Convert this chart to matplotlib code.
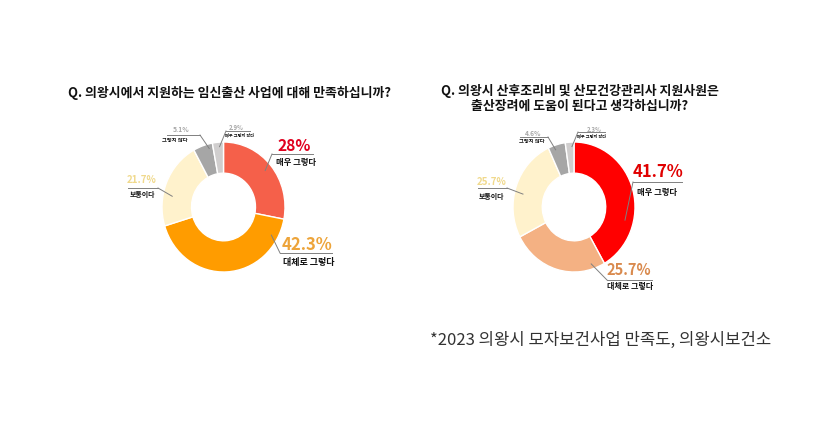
import numpy as np
import matplotlib.pyplot as plt

plt.rcParams['font.family'] = ['Noto Sans CJK KR', 'DejaVu Sans']

W, H = 840, 433

categories = ['매우 그렇다', '대체로 그렇다', '보통이다', '그렇지 않다', '매우 그렇지 않다']
left_values = [28, 42.3, 21.7, 5.1, 2.9]
right_values = [41.7, 25.7, 25.7, 4.6, 2.3]
left_pct_labels = ['28%', '42.3%', '21.7%', '5.1%', '2.9%']
right_pct_labels = ['41.7%', '25.7%', '25.7%', '4.6%', '2.3%']

left_title = 'Q. 의왕시에서 지원하는 임신출산 사업에 대해 만족하십니까?'
right_title = 'Q. 의왕시 산후조리비 및 산모건강관리사 지원사원은\n출산장려에 도움이 된다고 생각하십니까?'
source_note = '*2023 의왕시 모자보건사업 만족도, 의왕시보건소'

left_colors = ['#F5604A', '#FF9C00', '#FFF2CC', '#A6A6A6', '#D0CECE']
right_colors = ['#FF0000', '#F4B183', '#FFF2CC', '#A6A6A6', '#D0CECE']
left_text_colors = ['#E0001E', '#EDA43A', '#F0D98C', '#A6A6A6', '#A6A6A6']
right_text_colors = ['#E00000', '#D98A4E', '#F0D98C', '#A6A6A6', '#A6A6A6']

# label layout: pct centre, underline (x0, x1, y), name centre, elbow side,
# anchor fraction inside wedge, anchor radius, pct size, name size
left_layout = [
    ((294, 146), (272, 313, 154), (296, 162), 'L', 0.5, 0.88, 11.2, 6),
    ((307, 245), (280, 332, 253), (309, 262), 'L', 0.12, 0.89, 12, 6.5),
    ((142, 180), (128, 158, 188), (142, 194), 'R', 0.36, 0.85, 7, 5),
    ((181, 129), (167, 200, 135), (175, 140), 'R', 0.78, 0.93, 4.8, 3.8),
    ((236, 127), (226, 250, 131), (240, 135), 'L', 0.62, 0.93, 4.3, 3),
]
right_layout = [
    ((658, 172), (633, 682, 182), (657, 192), 'L', 0.69, 0.86, 12, 6),
    ((629, 270), (607, 652, 280), (630, 287), 'L', 0.13, 0.92, 10.5, 5.8),
    ((492, 182), (478, 507, 188), (491, 196), 'R', 0.44, 0.86, 7, 5),
    ((533, 133), (520, 548, 137), (532, 141), 'R', 0.36, 0.93, 4.8, 3.8),
    ((594, 129), (578, 605, 132), (592, 136), 'L', 0.75, 0.93, 4.3, 3),
]

fig = plt.figure(figsize=(W / 100, H / 100), dpi=100)
fig.patch.set_facecolor('white')


def px_box(x0, y0, x1, y1):
    return [x0 / W, 1 - y1 / H, (x1 - x0) / W, (y1 - y0) / H]


overlay = fig.add_axes([0, 0, 1, 1], zorder=5)
overlay.set_xlim(0, W)
overlay.set_ylim(H, 0)
overlay.axis('off')


def draw_donut(box, values, colors, pct_labels, text_colors, layout):
    ax = fig.add_axes(px_box(*box))
    wedges, _ = ax.pie(values, colors=colors, startangle=90, counterclock=False,
                       radius=1, wedgeprops=dict(width=0.48, edgecolor='white', linewidth=1))
    ax.set_aspect('auto')
    ax.set_xlim(-1, 1)
    ax.set_ylim(-1, 1)
    for w, name, pct, tc, lay in zip(wedges, categories, pct_labels, text_colors, layout):
        (px, py), (ux0, ux1, uy), (nx, ny), side, frac, rr, ps, ns = lay
        t1, t2 = w.theta1, w.theta2
        # clockwise wedges: theta2 is the start
        ang = np.deg2rad(t2 - frac * (t2 - t1))
        dx, dy = ax.transData.transform((rr * np.cos(ang), rr * np.sin(ang)))
        ax_x, ax_y = dx, H - dy
        ex = ux0 if side == 'L' else ux1
        overlay.plot([ax_x, ex], [ax_y, uy], color='#808080', lw=0.7)
        overlay.plot([ux0, ux1], [uy, uy], color='#808080', lw=0.7)
        overlay.text(px, py, pct, color=tc, fontsize=ps, fontweight='bold',
                     ha='center', va='center')
        overlay.text(nx, ny, name, color='#111111', fontsize=ns, fontweight='bold',
                     ha='center', va='center')
    return ax


draw_donut((162, 142, 285, 272), left_values, left_colors, left_pct_labels,
           left_text_colors, left_layout)
draw_donut((513, 142, 635, 272), right_values, right_colors, right_pct_labels,
           right_text_colors, right_layout)

overlay.text(230, 93, left_title, fontsize=9.3, fontweight='bold', color='#111111',
             ha='center', va='center')
overlay.text(580, 98, right_title, fontsize=9.3, fontweight='bold', color='#111111',
             ha='center', va='center', linespacing=1.05)
overlay.text(430, 340, source_note, fontsize=12, color='#333333', ha='left', va='center')

fig.savefig('out.png', dpi=100, facecolor='white')
